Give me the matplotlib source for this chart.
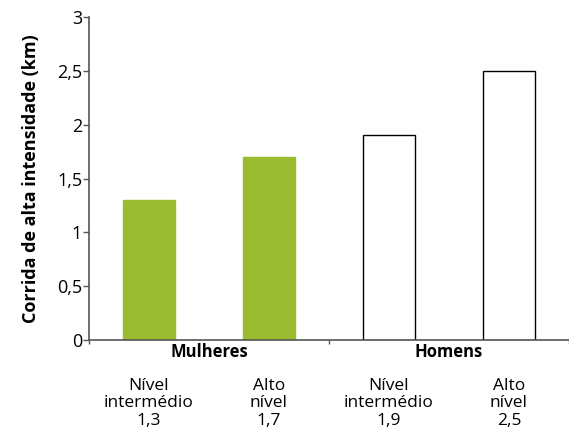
import numpy as np
import matplotlib.pyplot as plt

plt.rcParams['font.family'] = ['Open Sans', 'DejaVu Sans']

groups = ['Mulheres', 'Homens']
levels = ['Nível\nintermédio', 'Alto\nnível', 'Nível\nintermédio', 'Alto\nnível']
values = [1.3, 1.7, 1.9, 2.5]
value_labels = ['1,3', '1,7', '1,9', '2,5']
yticks = [0, 0.5, 1, 1.5, 2, 2.5, 3]
ytick_labels = ['0', '0,5', '1', '1,5', '2', '2,5', '3']

green = '#9bbc31'
axis_col = '#555555'

fig = plt.figure(figsize=(5.69, 4.32), dpi=100)
ax = fig.add_axes([0.1564, 0.213, 0.8436, 0.7476])

x = np.arange(len(values)) + 0.5
faces = [green, green, 'white', 'white']
edges = [green, green, 'black', 'black']
ax.bar(x, values, width=0.43, color=faces, edgecolor=edges, linewidth=1.0, zorder=2)

ax.set_xlim(0, 4)
ax.set_ylim(0, 3)
ax.set_yticks(yticks)
ax.set_yticklabels(ytick_labels, fontsize=13)
ax.set_xticks([0, 2, 4])
ax.set_xticklabels([])
ax.tick_params(axis='y', length=4, width=1, color=axis_col, pad=1)
ax.tick_params(axis='x', length=3, width=1, color=axis_col)

for s in ['top', 'right']:
    ax.spines[s].set_visible(False)
for s in ['left', 'bottom']:
    ax.spines[s].set_color(axis_col)
    ax.spines[s].set_linewidth(1.2)

ax.set_ylabel('Corrida de alta intensidade (km)', fontsize=13, fontweight='bold', labelpad=12)

# group names under the axis, then level and value under each bar
for i, g in enumerate(groups):
    ax.annotate(g, xy=(2 * i + 1, 0), xycoords='data', xytext=(0, -9),
                textcoords='offset points', ha='center', va='center',
                fontsize=12, fontweight='bold')
for xi, lv, vl in zip(x, levels, value_labels):
    ax.annotate(lv + '\n' + vl, xy=(xi, 0), xycoords='data', xytext=(0, -45.5),
                textcoords='offset points', ha='center', va='center',
                fontsize=12.5, linespacing=1.12)

fig.savefig('out.png', dpi=100)
